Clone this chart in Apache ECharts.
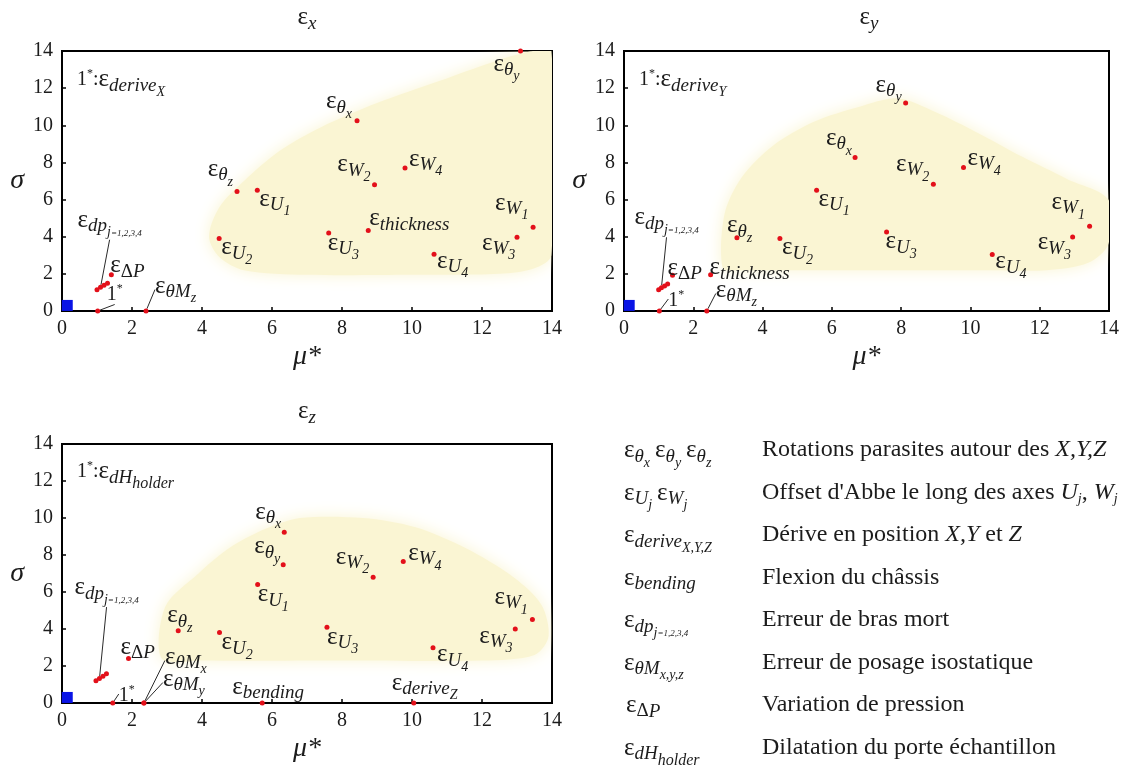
<!DOCTYPE html>
<html><head><meta charset="utf-8">
<script src="https://cdn.jsdelivr.net/npm/echarts@6/dist/echarts.min.js"></script>
<style>html,body{margin:0;padding:0;background:#fff}#c{width:1122px;height:775px}</style>
</head><body><div id="c"></div><script>
// ---------------- DATA ----------------
// Panel εx
const xNames = ['thx','thy','thz','U1','U2','U3','U4','W1','W2','W3','W4','thick','dP','dp1','dp2','dp3','dp4','der','thMz'];
const xMu    = [8.43,13.1,5.0,5.58,4.49,7.62,10.63,13.46,8.93,13.0,9.8,8.75,1.41,1.0,1.1,1.2,1.3,1.02,2.4];
const xSigma = [10.25,14.0,6.44,6.5,3.9,4.2,3.06,4.51,6.8,3.97,7.7,4.33,1.95,1.15,1.28,1.38,1.5,0,0];
// Panel εy
const yNames = ['thx','thy','thz','U1','U2','U3','U4','W1','W2','W3','W4','thick','dP','dp1','dp2','dp3','dp4','der','thMz'];
const yMu    = [6.67,8.13,3.26,5.56,4.5,7.58,10.63,13.44,8.93,12.95,9.8,2.5,1.4,1.0,1.08,1.17,1.26,1.02,2.39];
const ySigma = [8.27,11.2,3.94,6.5,3.9,4.26,3.04,4.56,6.82,3.99,7.73,1.95,1.92,1.15,1.25,1.35,1.45,0,0];
// Panel εz
const zNames = ['thx','thy','thz','U1','U2','U3','U4','W1','W2','W3','W4','dP','dp1','dp2','dp3','dp4','dH','thMx','thMy','bend','derZ'];
const zMu    = [6.35,6.32,3.32,5.59,4.5,7.57,10.6,13.44,8.89,12.95,9.75,1.9,0.97,1.07,1.17,1.27,1.45,2.34,2.34,5.72,10.05];
const zSigma = [9.23,7.47,3.9,6.4,3.81,4.1,2.98,4.52,6.8,4.0,7.65,2.41,1.2,1.32,1.45,1.58,0,0,0,0,0];
// negligible factors (blue square near origin)
const blueMu = [0.15], blueSigma = [0.3];
// shaded (yellow) zones, outline vertices in (mu*, sigma)
const hullXMu  = [4.2,4.5,5.2,6.2,7.4,9.0,10.8,12.3,13.4,13.98,13.98,13.5,12.5,10,7,5.2,4.5];
const hullXSig = [4.0,5.6,7.0,8.6,9.9,11.2,12.4,13.4,13.98,13.98,3.0,2.3,2.0,1.95,1.95,2.2,2.9];
const hullYMu  = [2.85,2.9,3.4,4.3,5.5,6.8,7.9,9.0,10.2,11.5,12.8,13.98,13.98,13.4,12.2,10.6,8,5,3.3];
const hullYSig = [2.3,5.2,7.2,8.9,10.2,11.0,11.45,10.7,9.6,8.3,7.1,6.0,3.6,2.6,2.2,2.2,2.2,2.2,2.2];
const hullZMu  = [2.85,2.95,3.9,4.8,5.8,6.8,8.6,10.1,11.5,12.9,13.7,13.9,13.5,12,8,4];
const hullZSig = [2.4,5.2,7.0,8.4,9.4,10.0,10.0,9.5,8.4,6.8,5.3,3.6,2.6,2.3,2.3,2.3];
const axisMin = 0, axisMax = 14, axisStep = 2;

// ---------------- STYLE ----------------
const TXT = '#1c1c1c';
const SERIF = '"Liberation Serif", "DejaVu Serif", serif';
function tok(size, lh, padTop, italic){
  return {fontFamily:SERIF,fontSize:size,lineHeight:lh,padding:[padTop,0,0,0],verticalAlign:'top',
          color:TXT,fontWeight:'normal',fontStyle:italic?'italic':'normal'};
}
const RICH = {
  e: tok(25,25,0,false),
  s1: tok(19,19,9,true),
  s1r: tok(19,19,9,false),
  s2: tok(14,14,18,true),
  s2b: tok(16,16,17,true),
  s3: tok(9,9,21,true),
  n: tok(20,20,3,false),
  sup: tok(12,12,1,false),
  d: tok(24,24,0,false),
  di: tok(24,24,0,true),
  ds: tok(14,14,12,true)
};
const LT = {
  thx:'{e|ε}{s1|θ}{s2|x}', thy:'{e|ε}{s1|θ}{s2|y}', thz:'{e|ε}{s1|θ}{s2|z}',
  U1:'{e|ε}{s1|U}{s2|1}', U2:'{e|ε}{s1|U}{s2|2}', U3:'{e|ε}{s1|U}{s2|3}', U4:'{e|ε}{s1|U}{s2|4}',
  W1:'{e|ε}{s1|W}{s2|1}', W2:'{e|ε}{s1|W}{s2|2}', W3:'{e|ε}{s1|W}{s2|3}', W4:'{e|ε}{s1|W}{s2|4}',
  thick:'{e|ε}{s1|thickness}', dP:'{e|ε}{s1r|Δ}{s1|P}', dp:'{e|ε}{s1|dp}{s2|j}{s3|=1,2,3,4}',
  one:'{n|1}{sup|*}', thMz:'{e|ε}{s1|θM}{s2|z}', thMx:'{e|ε}{s1|θM}{s2|x}', thMy:'{e|ε}{s1|θM}{s2|y}',
  bend:'{e|ε}{s1|bending}', derZ:'{e|ε}{s1|derive}{s2|Z}'
};
// label box placement relative to its point
const PLACE_X = {
  thx:{al:'right',dx:-5,dy:-30}, thy:{dx:-27,dy:2}, thz:{al:'right',dx:-4,dy:-33},
  U1:{dx:2,dy:-2}, U2:{dx:2,dy:-2}, U3:{dx:-1,dy:-1}, U4:{dx:3,dy:-4},
  W1:{dx:-38,dy:-35}, W2:{al:'right',dx:-4,dy:-31}, W3:{dx:-35,dy:-5}, W4:{dx:4,dy:-20},
  thick:{dx:1,dy:-23}, dP:{dx:-1,dy:-20}, dp2:{t:'dp',dx:-23,dy:-78,line:true},
  der:{t:'one',dx:9,dy:-28,line:true}, thMz:{dx:9,dy:-36,line:true}
};
const PLACE_Y = {
  thx:{al:'right',dx:-3,dy:-30}, thy:{al:'right',dx:-4,dy:-29}, thz:{dx:-10,dy:-23},
  U1:{dx:2,dy:-2}, U2:{dx:2,dy:-2}, U3:{dx:-1,dy:-1}, U4:{dx:3,dy:-4},
  W1:{dx:-38,dy:-35}, W2:{al:'right',dx:-4,dy:-31}, W3:{dx:-35,dy:-5}, W4:{dx:4,dy:-20},
  thick:{dx:-1,dy:-18}, dP:{dx:-5,dy:-18}, dp2:{t:'dp',dx:-27,dy:-81,line:true},
  der:{t:'one',dx:9,dy:-22,line:true}, thMz:{dx:9,dy:-32,line:true}
};
const PLACE_Z = {
  thx:{al:'right',dx:-3,dy:-31}, thy:{al:'right',dx:-3,dy:-29}, thz:{dx:-11,dy:-26},
  U1:{dx:0,dy:-1}, U2:{dx:2,dy:-1}, U3:{dx:0,dy:-1}, U4:{dx:4,dy:-4},
  W1:{dx:-38,dy:-33}, W2:{al:'right',dx:-4,dy:-31}, W3:{dx:-36,dy:-4}, W4:{dx:5,dy:-19},
  dP:{dx:-8,dy:-22}, dp2:{t:'dp',dx:-25,dy:-102,line:true},
  dH:{t:'one',dx:6,dy:-19,line:true}, thMx:{dx:21,dy:-57,line:true}, thMy:{dx:19,dy:-35,line:true},
  bend:{dx:-30,dy:-27}, derZ:{dx:-22,dy:-31}
};

const GRIDS = [
  {left:62, top:51, width:490, height:260},
  {left:624, top:51, width:490, height:260},
  {left:62, top:444, width:490, height:259}
];

function makeAxis(i, isX){
  return {
    type:'value', gridIndex:i, min:axisMin, max:axisMax, interval:axisStep,
    axisLine:{show:true,onZero:false,lineStyle:{color:'#000',width:2}},
    axisTick:{show:true,inside:true,length:4,lineStyle:{color:'#000',width:1.5}},
    axisLabel:{color:TXT,fontFamily:SERIF,fontSize:20,margin:isX?8:9},
    splitLine:{show:false},
    name: isX ? 'μ*' : 'σ', nameLocation:'middle', nameGap: isX ? 32 : 38, nameRotate:0,
    nameTextStyle:{color:TXT,fontFamily:SERIF,fontStyle:'italic',fontSize:28}
  };
}

function panel(i, names, mu, sigma, place, hMu, hSig){
  const data = names.map((n,k)=>{
    const item = {name:n, value:[mu[k], sigma[k]]};
    const p = place[n];
    if (p) {
      const txt = LT[p.t || n];
      item.label = {show:true, formatter:()=>txt, position:[2.5+p.dx, 1+p.dy],
        align:p.al||'left', verticalAlign:'top', rich:RICH, color:TXT};
      if (p.line) item.labelLine = {show:true, length2:0, lineStyle:{color:'#2a2a2a',width:1,opacity:1}};
    } else item.label = {show:false};
    return item;
  });
  return [
    {type:'custom', xAxisIndex:i, yAxisIndex:i, silent:true, z:1, clip:true,
     data:[[hMu[0],hSig[0]]],
     renderItem:(params, api)=>({type:'polygon',
       shape:{points:hMu.map((m,j)=>api.coord([m,hSig[j]])), smooth:0.3},
       style:{fill:'#faf5d3', shadowBlur:16, shadowColor:'#faf5d3'}})},
    {type:'scatter', xAxisIndex:i, yAxisIndex:i, z:5, symbolSize:5, clip:false,
     itemStyle:{color:'#e3101a', opacity:1}, data:data, label:{show:false}},
    {type:'scatter', xAxisIndex:i, yAxisIndex:i, z:4, symbol:'rect', symbolSize:11, clip:false,
     itemStyle:{color:'#0a14e6', opacity:1}, data:blueMu.map((m,k)=>[m, blueSigma[k]])}
  ];
}

function T(text, left, top, align){
  const o = {text:text, left:left, top:top, padding:0,
             textStyle:{rich:RICH, color:TXT, fontWeight:'normal'}};
  if (align) o.textAlign = align;
  return o;
}
const rowTop = r => 438 + r*42.5;
const titles = [
  T('{e|ε}{s1|x}', 307, 5, 'center'), T('{e|ε}{s1|y}', 869, 5, 'center'), T('{e|ε}{s1|z}', 307, 399, 'center'),
  T('{n|1}{sup|*}{n|:}{e|ε}{s1|derive}{s2|X}', 77, 67),
  T('{n|1}{sup|*}{n|:}{e|ε}{s1|derive}{s2|Y}', 639, 67),
  T('{n|1}{sup|*}{n|:}{e|ε}{s1|dH}{s2b|holder}', 77, 459),
  T('{e|ε}{s1|θ}{s2|x} {e|ε}{s1|θ}{s2|y} {e|ε}{s1|θ}{s2|z}', 624, rowTop(0)),
  T('{e|ε}{s1|U}{s2|j} {e|ε}{s1|W}{s2|j}', 624, rowTop(1)),
  T('{e|ε}{s1|derive}{s2|X,Y,Z}', 624, rowTop(2)),
  T('{e|ε}{s1|bending}', 624, rowTop(3)),
  T('{e|ε}{s1|dp}{s2|j}{s3|=1,2,3,4}', 624, rowTop(4)),
  T('{e|ε}{s1|θM}{s2|x,y,z}', 624, rowTop(5)),
  T('{e|ε}{s1r|Δ}{s1|P}', 626, rowTop(6)),
  T('{e|ε}{s1|dH}{s2b|holder}', 624, rowTop(7)),
  T('{d|Rotations parasites autour des }{di|X,Y,Z}', 762, rowTop(0)),
  T("{d|Offset d'Abbe le long des axes }{di|U}{ds|j}{d|, }{di|W}{ds|j}", 762, rowTop(1)),
  T('{d|Dérive en position }{di|X,Y}{d| et }{di|Z}', 762, rowTop(2)),
  T('{d|Flexion du châssis}', 762, rowTop(3)),
  T('{d|Erreur de bras mort}', 762, rowTop(4)),
  T('{d|Erreur de posage isostatique}', 762, rowTop(5)),
  T('{d|Variation de pression}', 762, rowTop(6)),
  T('{d|Dilatation du porte échantillon}', 762, rowTop(7))
];

const option = {
  backgroundColor:'#fff', animation:false,
  title: titles,
  grid: GRIDS.map(g=>Object.assign({show:true, borderColor:'#000', borderWidth:2, backgroundColor:'transparent'}, g)),
  xAxis: [0,1,2].map(i=>makeAxis(i,true)),
  yAxis: [0,1,2].map(i=>makeAxis(i,false)),
  series: [].concat(
    panel(0, xNames, xMu, xSigma, PLACE_X, hullXMu, hullXSig),
    panel(1, yNames, yMu, ySigma, PLACE_Y, hullYMu, hullYSig),
    panel(2, zNames, zMu, zSigma, PLACE_Z, hullZMu, hullZSig)
  )
};
const chart = echarts.init(document.getElementById('c'), null, {renderer:'canvas'});
chart.setOption(option);
</script></body></html>
